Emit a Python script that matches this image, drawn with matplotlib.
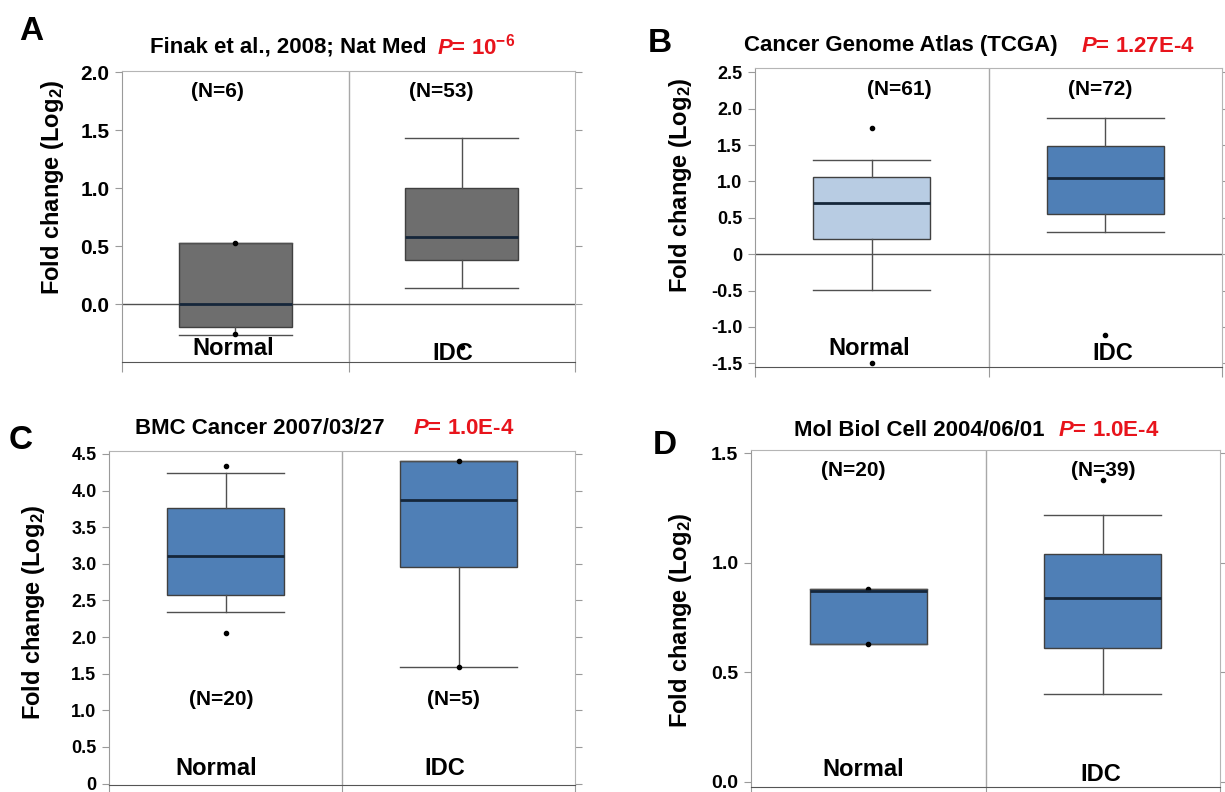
import matplotlib
matplotlib.use("Agg")
import matplotlib.pyplot as plt

# Figure size in pixels (dpi 100)
W, H = 1225, 792

plt.rcParams["font.family"] = ["Liberation Sans", "DejaVu Sans"]
plt.rcParams["font.weight"] = "bold"
plt.rcParams["mathtext.fontset"] = "custom"
plt.rcParams["mathtext.rm"] = "Liberation Sans:bold"
plt.rcParams["mathtext.bf"] = "Liberation Sans:bold"
plt.rcParams["mathtext.it"] = "Liberation Sans:italic:bold"

GROUPS = ["Normal", "IDC"]

# Panel A - Finak et al., 2008
A_Q1 = [-0.20, 0.38]
A_MED = [0.00, 0.58]
A_Q3 = [0.53, 1.00]
A_LO = [-0.27, 0.14]
A_HI = [0.53, 1.43]
A_DOTS = [[0.53, -0.26], [-0.37]]
A_N = [6, 53]
A_TICKS = [0.0, 0.5, 1.0, 1.5, 2.0]
A_TICKLABELS = ["0.0", "0.5", "1.0", "1.5", "2.0"]

# Panel B - TCGA
B_Q1 = [0.21, 0.55]
B_MED = [0.70, 1.05]
B_Q3 = [1.06, 1.49]
B_LO = [-0.49, 0.30]
B_HI = [1.30, 1.87]
B_DOTS = [[1.73, -1.50], [-1.11]]
B_N = [61, 72]
B_TICKS = [-1.5, -1.0, -0.5, 0, 0.5, 1.0, 1.5, 2.0, 2.5]
B_TICKLABELS = ["-1.5", "-1.0", "-0.5", "0", "0.5", "1.0", "1.5", "2.0", "2.5"]

# Panel C - BMC Cancer
C_Q1 = [2.57, 2.96]
C_MED = [3.11, 3.87]
C_Q3 = [3.76, 4.40]
C_LO = [2.34, 1.59]
C_HI = [4.24, 4.40]
C_DOTS = [[4.33, 2.06], [4.40, 1.59]]
C_N = [20, 5]
C_TICKS = [0, 0.5, 1.0, 1.5, 2.0, 2.5, 3.0, 3.5, 4.0, 4.5]
C_TICKLABELS = ["0", "0.5", "1.0", "1.5", "2.0", "2.5", "3.0", "3.5", "4.0", "4.5"]

# Panel D - Mol Biol Cell
D_Q1 = [0.63, 0.61]
D_MED = [0.87, 0.84]
D_Q3 = [0.88, 1.04]
D_LO = [0.63, 0.40]
D_HI = [0.88, 1.22]
D_DOTS = [[0.88, 0.63], [1.38]]
D_N = [20, 39]
D_TICKS = [0.0, 0.5, 1.0, 1.5]
D_TICKLABELS = ["0.0", "0.5", "1.0", "1.5"]

GRAY = "#6e6e6e"
BLUE = "#4f7fb6"
LIGHT_BLUE = "#b8cce3"
RED = "#e8141c"


def fx(x):
    return x / W


def fy(y):
    return 1 - y / H


def px_rect(l, t, r, b):
    return [l / W, 1 - b / H, (r - l) / W, (b - t) / H]


def make_stats(q1, med, q3, lo, hi, dots):
    stats = []
    for i in range(len(q1)):
        stats.append({"q1": q1[i], "med": med[i], "q3": q3[i],
                      "whislo": lo[i], "whishi": hi[i], "fliers": dots[i]})
    return stats


def draw_panel(fig, p):
    ax = fig.add_axes(px_rect(*p["rect"]))
    ax.set_xlim(0, 2)
    ax.set_ylim(*p["ylim"])

    bp = ax.bxp(p["stats"], positions=[0.5, 1.5], widths=0.5, capwidths=0.5,
                patch_artist=True, showfliers=True,
                boxprops=dict(edgecolor="#404040", linewidth=1),
                medianprops=dict(color="#15263a", linewidth=2),
                whiskerprops=dict(color="#505050", linewidth=1),
                capprops=dict(color="#505050", linewidth=1),
                flierprops=dict(marker="o", markersize=3, markerfacecolor="black",
                                markeredgecolor="black"))
    for patch, c in zip(bp["boxes"], p["colors"]):
        patch.set_facecolor(c)
        patch.set_zorder(2)

    ax.axvline(1, color="#a8a8a8", lw=1, zorder=0.5)
    if p["zero_line"]:
        ax.axhline(0, color="#505050", lw=1, zorder=0.5)

    for side in ["top", "right"]:
        ax.spines[side].set_color("#b5b5b5")
    ax.spines["left"].set_color("#9a9a9a")
    ax.spines["bottom"].set_color("#555555")

    ax.set_yticks(p["ticks"])
    ax.set_yticklabels(p["ticklabels"], fontsize=p["tick_fs"], fontweight="bold")
    ax.set_xticks([0, 1, 2])
    ax.set_xticklabels([])
    ax.tick_params(axis="y", left=True, right=True, labelright=False,
                   length=5, color="#9a9a9a", pad=4)
    ax.tick_params(axis="x", length=7, color="#9a9a9a")

    # N labels and category names inside the plot
    for x, n in zip(p["n_x"], p["n"]):
        ax.text(x, p["n_y"], f"(N={n})", ha="center", va="center",
                fontsize=15, fontweight="bold")
    for x, y, name in zip(p["cat_x"], p["cat_y"], GROUPS):
        ax.text(x, y, name, ha="center", va="center", fontsize=17, fontweight="bold")

    # y label
    fig.text(fx(p["ylab_xy"][0]), fy(p["ylab_xy"][1]), r"Fold change (Log$_2$)",
             rotation=90, ha="center", va="center", fontsize=17, fontweight="bold")

    # panel letter and title
    fig.text(fx(p["letter_xy"][0]), fy(p["letter_xy"][1]), p["letter"],
             ha="center", va="center", fontsize=24, fontweight="bold")
    fig.text(fx(p["title_end"]), fy(p["title_y"]), p["title"], ha="right",
             va="center", fontsize=p["title_fs"], fontweight="bold")
    fig.text(fx(p["p_start"]), fy(p["title_y"]), p["ptext"], ha="left",
             va="center", fontsize=p["title_fs"], fontweight="bold", color=RED)
    return ax


def main():
    fig = plt.figure(figsize=(W / 100, H / 100), dpi=100)

    panels = [
        dict(letter="A", stats=make_stats(A_Q1, A_MED, A_Q3, A_LO, A_HI, A_DOTS),
             colors=[GRAY, GRAY], rect=(122, 71, 575, 362), ylim=(-0.50, 2.01),
             ticks=A_TICKS, ticklabels=A_TICKLABELS, tick_fs=15, zero_line=True,
             n=A_N, n_x=[0.42, 1.41], n_y=1.83,
             cat_x=[0.49, 1.46], cat_y=[-0.38, -0.43],
             ylab_xy=(52, 187), letter_xy=(31, 32),
             title="Finak et al., 2008; Nat Med", title_end=427, p_start=437,
             title_y=47, title_fs=16, ptext=r"$P$= 10$^{-6}$"),
        dict(letter="B", stats=make_stats(B_Q1, B_MED, B_Q3, B_LO, B_HI, B_DOTS),
             colors=[LIGHT_BLUE, BLUE], rect=(755, 68, 1222, 367), ylim=(-1.55, 2.56),
             ticks=B_TICKS, ticklabels=B_TICKLABELS, tick_fs=13, zero_line=True,
             n=B_N, n_x=[0.62, 1.48], n_y=2.27,
             cat_x=[0.49, 1.53], cat_y=[-1.30, -1.36],
             ylab_xy=(681, 185), letter_xy=(660, 43),
             title="Cancer Genome Atlas (TCGA)", title_end=1058, p_start=1081,
             title_y=46, title_fs=16, ptext=r"$P$= 1.27E-4"),
        dict(letter="C", stats=make_stats(C_Q1, C_MED, C_Q3, C_LO, C_HI, C_DOTS),
             colors=[BLUE, BLUE], rect=(109, 451, 575, 785), ylim=(-0.02, 4.54),
             ticks=C_TICKS, ticklabels=C_TICKLABELS, tick_fs=13, zero_line=False,
             n=C_N, n_x=[0.48, 1.48], n_y=1.15,
             cat_x=[0.46, 1.44], cat_y=[0.20, 0.20],
             ylab_xy=(34, 612), letter_xy=(21, 441),
             title="BMC Cancer 2007/03/27", title_end=385, p_start=413,
             title_y=428, title_fs=16, ptext=r"$P$= 1.0E-4"),
        dict(letter="D", stats=make_stats(D_Q1, D_MED, D_Q3, D_LO, D_HI, D_DOTS),
             colors=[BLUE, BLUE], rect=(751, 450, 1220, 787), ylim=(-0.025, 1.515),
             ticks=D_TICKS, ticklabels=D_TICKLABELS, tick_fs=14, zero_line=False,
             n=D_N, n_x=[0.435, 1.50], n_y=1.42,
             cat_x=[0.48, 1.49], cat_y=[0.053, 0.030],
             ylab_xy=(681, 620), letter_xy=(665, 445),
             title="Mol Biol Cell 2004/06/01", title_end=1045, p_start=1058,
             title_y=431, title_fs=16, ptext=r"$P$= 1.0E-4"),
    ]

    for p in panels:
        draw_panel(fig, p)

    fig.savefig("out.png", dpi=100)


if __name__ == "__main__":
    main()
